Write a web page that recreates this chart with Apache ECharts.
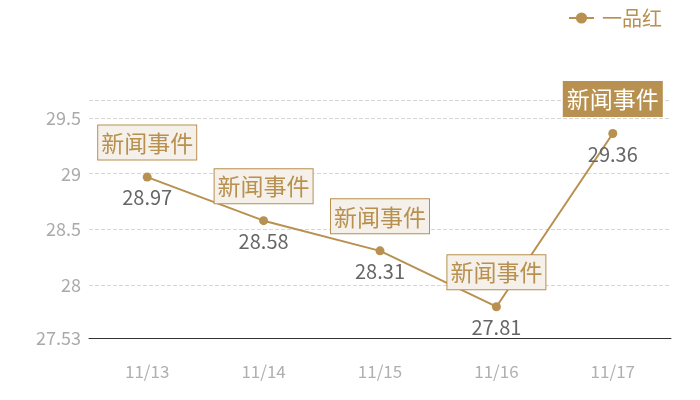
<!DOCTYPE html>
<html>
<head>
<meta charset="utf-8">
<script src="https://cdn.jsdelivr.net/npm/echarts@6/dist/echarts.min.js"></script>
<style>html,body{margin:0;padding:0;background:#fff;}#c{width:700px;height:400px;}</style>
</head>
<body>
<div id="c"></div>
<script>
var categories = ['11/13', '11/14', '11/15', '11/16', '11/17'];
var seriesName = '一品红';
var values = [28.97, 28.58, 28.31, 27.81, 29.36];
var eventLabels = ['新闻事件', '新闻事件', '新闻事件', '新闻事件', '新闻事件'];
var highlighted = [false, false, false, false, true];
var yMin = 27.53;
var yMax = 29.66;

var gold = '#b8904f';
var font = "'Noto Sans CJK SC', 'Noto Sans', sans-serif";

var eventData = values.map(function (v, i) {
  var item = { value: v, name: eventLabels[i] };
  if (highlighted[i]) {
    item.label = { color: '#fff', backgroundColor: gold, borderColor: gold };
  }
  return item;
});

var chart = echarts.init(document.getElementById('c'));
chart.setOption({
  animation: false,
  textStyle: { fontFamily: font },
  legend: {
    right: 33, top: 3,
    itemWidth: 25, itemHeight: 14, itemGap: 10,
    data: [seriesName],
    textStyle: { color: gold, fontSize: 20, fontFamily: font, padding: [0, 0, 0, 3] }
  },
  grid: { left: 89, right: 29, top: 100, bottom: 62 },
  xAxis: {
    type: 'category',
    data: categories,
    boundaryGap: true,
    axisLine: { lineStyle: { color: '#333', width: 1 } },
    axisTick: { show: false },
    axisLabel: { color: '#b0b0b0', fontSize: 17, margin: 25, fontFamily: font }
  },
  yAxis: {
    type: 'value',
    min: yMin,
    max: yMax,
    axisLine: { show: false },
    axisTick: { show: false },
    axisLabel: { color: '#aaa', fontSize: 18, margin: 8, showMaxLabel: false, fontFamily: font },
    splitLine: { lineStyle: { color: '#d6d6d6', type: 'dashed', width: 1 } }
  },
  series: [
    {
      name: seriesName,
      type: 'line',
      data: values,
      symbol: 'circle',
      symbolSize: 9,
      itemStyle: { color: gold },
      lineStyle: { color: gold, width: 2 },
      label: {
        show: true, position: 'bottom', distance: 6,
        color: '#666', fontSize: 20, fontFamily: font
      },
      z: 3
    },
    {
      name: 'events',
      type: 'scatter',
      data: eventData,
      symbolSize: 1,
      itemStyle: { color: 'transparent', opacity: 1 },
      label: {
        show: true, position: 'top', distance: 17,
        formatter: function (p) { return p.name; },
        color: gold, fontSize: 23, lineHeight: 25,
        backgroundColor: '#f5f0e9', borderColor: gold, borderWidth: 1,
        padding: [5, 3, 4, 3], fontFamily: font
      },
      z: 4
    }
  ]
});
</script>
</body>
</html>
